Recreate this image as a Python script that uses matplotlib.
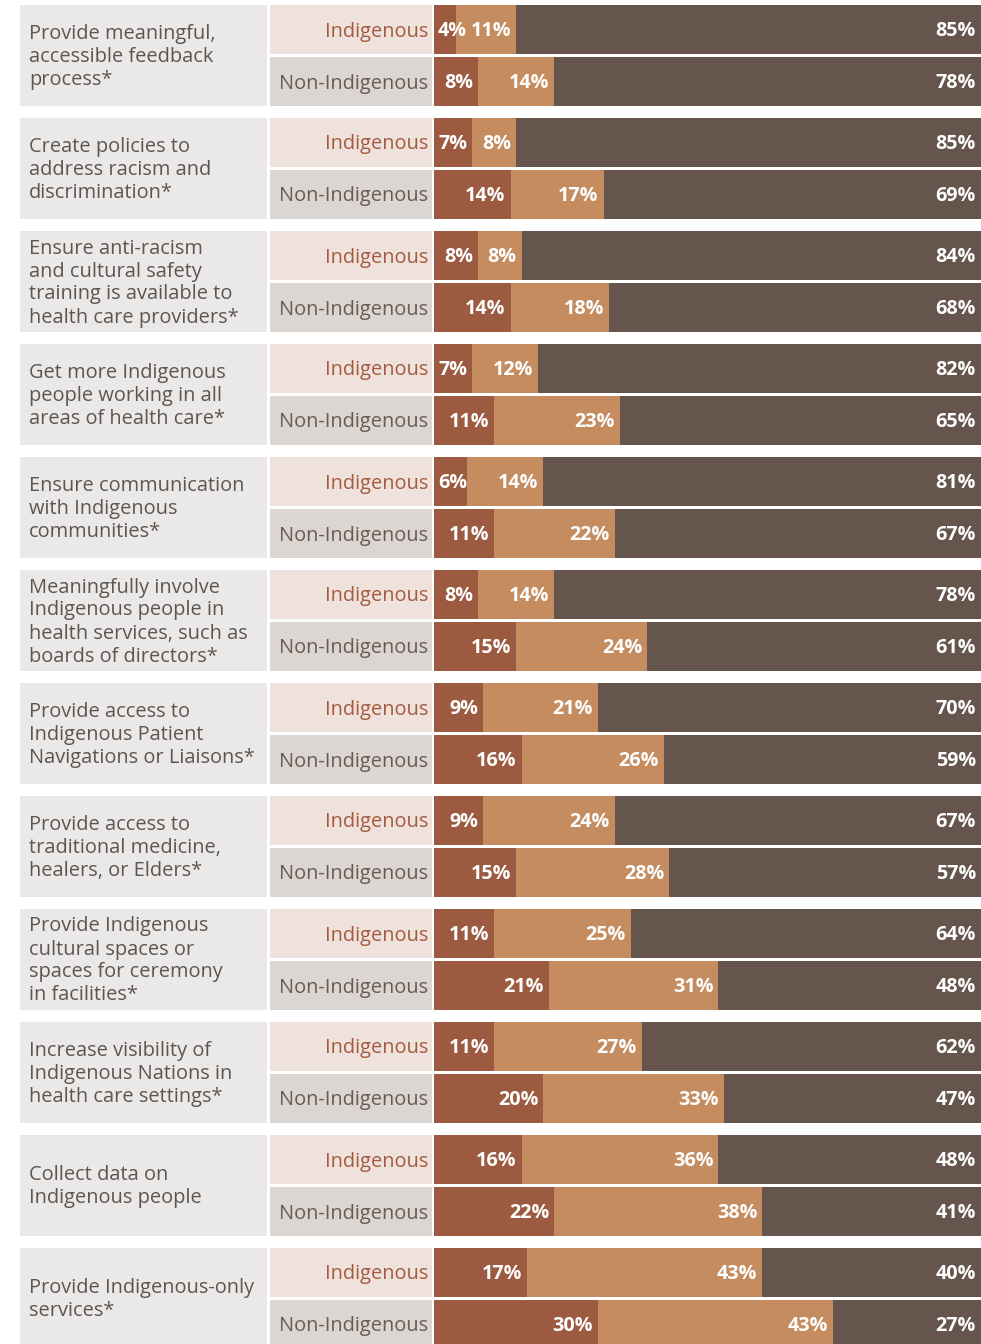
import matplotlib.pyplot as plt
from matplotlib.patches import Rectangle

plt.rcParams['font.family'] = ['Open Sans', 'DejaVu Sans']

# statements (line breaks as in the original)
statements = [
    "Provide meaningful,\naccessible feedback\nprocess*",
    "Create policies to\naddress racism and\ndiscrimination*",
    "Ensure anti-racism\nand cultural safety\ntraining is available to\nhealth care providers*",
    "Get more Indigenous\npeople working in all\nareas of health care*",
    "Ensure communication\nwith Indigenous\ncommunities*",
    "Meaningfully involve\nIndigenous people in\nhealth services, such as\nboards of directors*",
    "Provide access to\nIndigenous Patient\nNavigations or Liaisons*",
    "Provide access to\ntraditional medicine,\nhealers, or Elders*",
    "Provide Indigenous\ncultural spaces or\nspaces for ceremony\nin facilities*",
    "Increase visibility of\nIndigenous Nations in\nhealth care settings*",
    "Collect data on\nIndigenous people",
    "Provide Indigenous-only\nservices*",
]
groups = ["Indigenous", "Non-Indigenous"]

# three response shares, in %
ind_1 = [4, 7, 8, 7, 6, 8, 9, 9, 11, 11, 16, 17]
ind_2 = [11, 8, 8, 12, 14, 14, 21, 24, 25, 27, 36, 43]
ind_3 = [85, 85, 84, 82, 81, 78, 70, 67, 64, 62, 48, 40]
non_1 = [8, 14, 14, 11, 11, 15, 16, 15, 21, 20, 22, 30]
non_2 = [14, 17, 18, 23, 22, 24, 26, 28, 31, 33, 38, 43]
non_3 = [78, 69, 68, 65, 67, 61, 59, 57, 48, 47, 41, 27]

seg_colors = ["#9c5a40", "#c48c5f", "#66554c"]
box_bg = "#ebe9e8"
lab_bg = ["#efe2dd", "#dcd6d3"]
lab_fg = ["#a65a3e", "#6a5b52"]
text_fg = "#5c5653"

W, H = 981, 1344
fig = plt.figure(figsize=(W / 100, H / 100), dpi=100)
fig.patch.set_facecolor("white")

bg = fig.add_axes([0, 0, 1, 1])
bg.set_xlim(0, W)
bg.set_ylim(H, 0)
bg.axis("off")

bx0 = 434
ax = fig.add_axes([bx0 / W, 0, (W - bx0) / W, 1])
ax.set_xlim(0, 100)
ax.set_ylim(H, 0)
ax.axis("off")
px = 100 / (W - bx0)  # data units per pixel

pitch, top0 = 113, 5
row_h = 49

renderer = fig.canvas.get_renderer()

for g, stmt in enumerate(statements):
    top = top0 + g * pitch
    bg.add_patch(Rectangle((20, top), 247, 101, color=box_bg, lw=0))
    bg.text(29, top + 52, stmt, ha="left", va="center", fontsize=14.4,
            color=text_fg, linespacing=1.2)
    rows = [(ind_1[g], ind_2[g], ind_3[g]), (non_1[g], non_2[g], non_3[g])]
    for r, vals in enumerate(rows):
        y0 = top + r * 52
        yc = y0 + row_h / 2
        bg.add_patch(Rectangle((270, y0), 162, row_h, color=lab_bg[r], lw=0))
        bg.text(428, yc + 2, groups[r], ha="right", va="center", fontsize=14.4,
                color=lab_fg[r])
        left = 0
        for k, v in enumerate(vals):
            ax.barh(yc, v if k < 2 else 100 - left + 5, left=left, height=row_h,
                    color=seg_colors[k], lw=0)
            t = ax.text(0, yc + 1.5, f"{v}%", ha="left", va="center", fontsize=14.2,
                        fontweight="bold", color="white")
            tw = t.get_window_extent(renderer).width * px
            if k == 2:
                x = 100 - 5 * px - tw
            else:
                x = max(left + 4 * px, left + v - 5 * px - tw)
            t.set_x(x)
            left += v

fig.savefig("out.png", dpi=100)
